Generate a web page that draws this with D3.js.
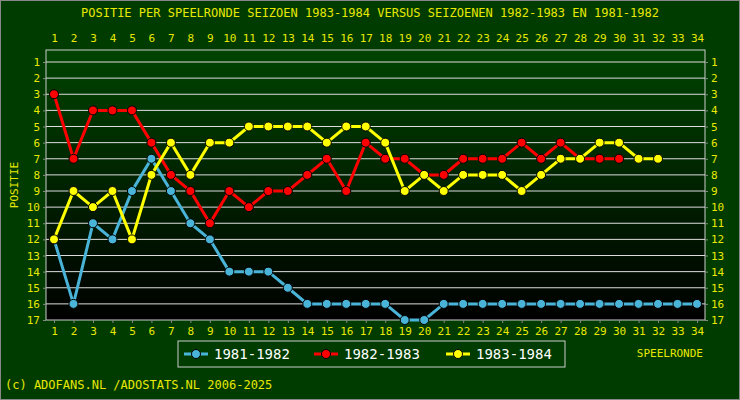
<!DOCTYPE html>
<html><head><meta charset="utf-8">
<script src="https://cdn.jsdelivr.net/npm/d3@7"></script>
<style>body{margin:0;background:#000}</style>
</head><body><div id="chart"></div>
<script>
const rounds = d3.range(1, 35);
const positions = d3.range(1, 18);
const seasons = ["1981-1982", "1982-1983", "1983-1984"];
const colors = ["#4ab4d8", "#ff0000", "#ffff00"];
const s8182 = [12,16,11,12,9,7,9,11,12,14,14,14,15,16,16,16,16,16,17,17,16,16,16,16,16,16,16,16,16,16,16,16,16,16];
const s8283 = [3,7,4,4,4,6,8,9,11,9,10,9,9,8,7,9,6,7,7,8,8,7,7,7,6,7,6,7,7,7];
const s8384 = [12,9,10,9,12,8,6,8,6,6,5,5,5,5,6,5,5,6,9,8,9,8,8,8,9,8,7,7,6,6,7,7];
const series = [s8182, s8283, s8384];

const W = 740, H = 400;
const pl = 46, pr = 705, pt = 50, pb = 320;
const svg = d3.select("#chart").append("svg").attr("width", W).attr("height", H)
  .style("font-family", "DejaVu Sans Mono, monospace");

const defs = svg.append("defs");
const grad = defs.append("linearGradient").attr("id", "bg").attr("x1", 0).attr("x2", 0).attr("y1", 0).attr("y2", 1);
grad.append("stop").attr("offset", "0%").attr("stop-color", "#004400");
grad.append("stop").attr("offset", "100%").attr("stop-color", "#000000");

svg.append("rect").attr("width", W).attr("height", H).attr("fill", "#003c00");
svg.append("rect").attr("x", 0.5).attr("y", 0.5).attr("width", W - 1).attr("height", H - 1)
  .attr("fill", "none").attr("stroke", "#888");
svg.append("rect").attr("x", pl).attr("y", pt).attr("width", pr - pl).attr("height", pb - pt)
  .attr("fill", "url(#bg)").attr("stroke", "#ccc");

const x = d3.scalePoint().domain(rounds).range([54, 697]);
const y = d3.scaleLinear().domain([1, 17]).range([62, 320]);

svg.append("g").selectAll("line").data(positions.slice(0, 16)).join("line")
  .attr("x1", pl).attr("x2", pr).attr("y1", d => y(d)).attr("y2", d => y(d))
  .attr("stroke", "#ddd").attr("stroke-width", 1);

const yellow = "#e8e800";
const tickStyle = g => {
  g.select(".domain").remove();
  g.selectAll("text").attr("fill", yellow).style("font-size", "11px").style("font-family", "DejaVu Sans Mono, monospace");
  g.selectAll("line").attr("stroke", "#888");
};
svg.append("g").attr("transform", `translate(0,${pb})`).call(d3.axisBottom(x).tickSize(3).tickPadding(4)).call(tickStyle);
svg.append("g").attr("transform", `translate(0,${pt})`).call(d3.axisTop(x).tickSize(0).tickPadding(8)).call(tickStyle);
svg.append("g").attr("transform", `translate(${pl},0)`).call(d3.axisLeft(y).tickValues(positions).tickSize(3).tickPadding(3)).call(tickStyle);
svg.append("g").attr("transform", `translate(${pr},0)`).call(d3.axisRight(y).tickValues(positions).tickSize(3).tickPadding(3)).call(tickStyle);

const line = d3.line().x((d, i) => x(rounds[i])).y(d => y(d));
series.forEach((s, k) => {
  svg.append("path").datum(s).attr("d", line).attr("fill", "none")
    .attr("stroke", colors[k]).attr("stroke-width", 3);
  svg.append("g").selectAll("circle").data(s).join("circle")
    .attr("cx", (d, i) => x(rounds[i])).attr("cy", d => y(d)).attr("r", 4.5)
    .attr("fill", colors[k]).attr("stroke", "#000").attr("stroke-width", 1);
});

svg.append("text").attr("x", 370).attr("y", 17).attr("text-anchor", "middle").attr("fill", yellow)
  .style("font-size", "12px").text("POSITIE PER SPEELRONDE SEIZOEN 1983-1984 VERSUS SEIZOENEN 1982-1983 EN 1981-1982");
svg.append("text").attr("transform", "translate(18,185) rotate(-90)").attr("text-anchor", "middle")
  .attr("fill", yellow).style("font-size", "11px").text("POSITIE");
svg.append("text").attr("x", 703).attr("y", 357).attr("text-anchor", "end").attr("fill", yellow)
  .style("font-size", "11px").text("SPEELRONDE");
svg.append("text").attr("x", 5).attr("y", 389).attr("fill", yellow)
  .style("font-size", "12px").text("(c) ADOFANS.NL /ADOSTATS.NL 2006-2025");

const lg = svg.append("g");
lg.append("rect").attr("x", 178).attr("y", 341).attr("width", 387).attr("height", 26)
  .attr("fill", "#003c00").attr("stroke", "#ccc");
const lx = [184, 314, 446];
seasons.forEach((s, k) => {
  lg.append("line").attr("x1", lx[k]).attr("x2", lx[k] + 24).attr("y1", 354).attr("y2", 354)
    .attr("stroke", colors[k]).attr("stroke-width", 3);
  lg.append("circle").attr("cx", lx[k] + 12).attr("cy", 354).attr("r", 4.5)
    .attr("fill", colors[k]).attr("stroke", "#000");
  lg.append("text").attr("x", lx[k] + 30).attr("y", 359).attr("fill", "#fff")
    .style("font-size", "14px").text(s);
});
</script></body></html>
